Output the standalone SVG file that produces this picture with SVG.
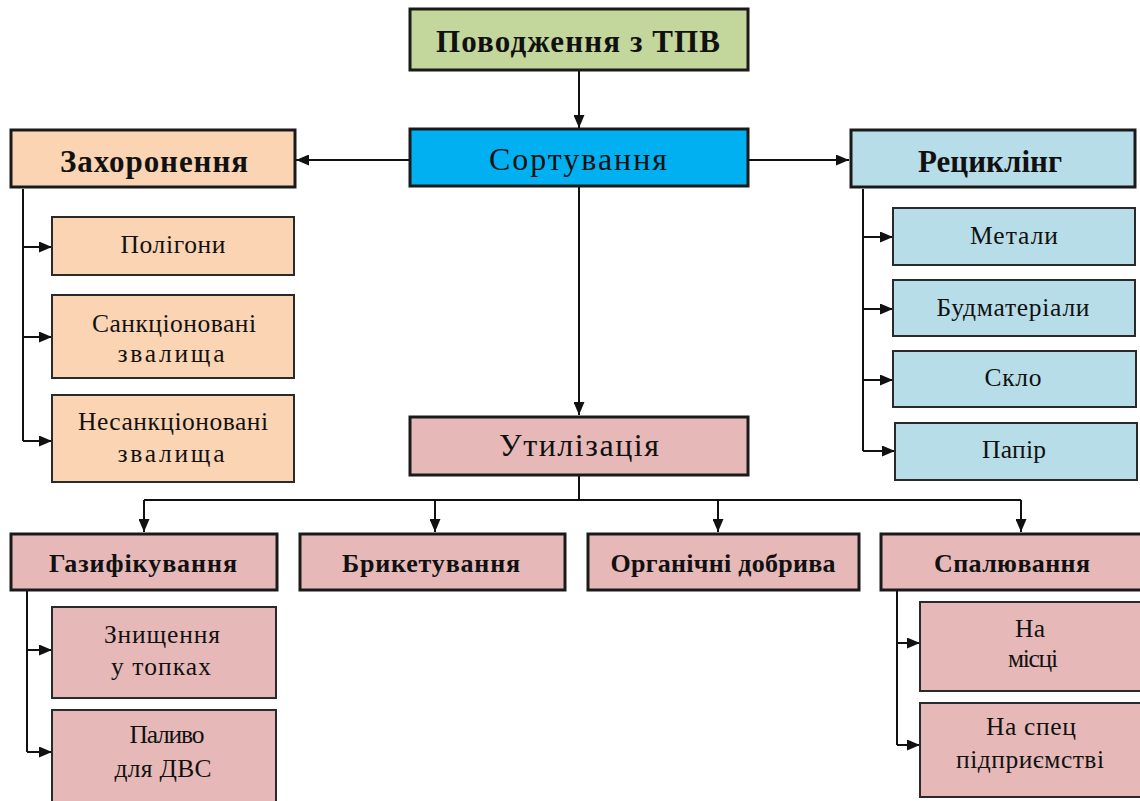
<svg xmlns="http://www.w3.org/2000/svg" width="1140" height="801" viewBox="0 0 1140 801">
  <defs>
    <marker id="arrow" viewBox="0 0 13 11" refX="13" refY="5.5" markerWidth="13" markerHeight="11" markerUnits="userSpaceOnUse" orient="auto">
      <path d="M0,0 L13,5.5 L0,11 Z" fill="#111"/>
    </marker>
    <style>
      .main { stroke: #1a1a1a; stroke-width: 3; }
      .sub { stroke: #2a2a2a; stroke-width: 2; }
      .green { fill: #C3D69B; }
      .cyan { fill: #00B0F0; }
      .peach { fill: #FBD4B4; }
      .blue { fill: #B7DDE8; }
      .pink { fill: #E6B9B8; }
      text { font-family: "Liberation Serif", "Times New Roman", serif; fill: #111; text-anchor: middle; }
      .t1 { font-size: 31px; font-weight: bold; }
      .t2 { font-size: 32px; }
      .t3 { font-size: 26px; font-weight: bold; }
      .t4 { font-size: 25.5px; }
      .link { fill: none; stroke: #111; stroke-width: 2; }
      .arr { marker-end: url(#arrow); }
    </style>
  </defs>

  <rect width="1140" height="801" fill="#fff"/>

  <!-- connectors -->
  <g id="connectors">
    <path class="link arr" d="M579,71 V128"/>
    <path class="link arr" d="M410,160 H296"/>
    <path class="link arr" d="M748,160 H849"/>
    <path class="link arr" d="M579,187 V415"/>
    <!-- burial branch -->
    <path class="link" d="M23,189 V441"/>
    <path class="link arr" d="M23,247 H52"/>
    <path class="link arr" d="M23,337 H52"/>
    <path class="link arr" d="M23,441 H52"/>
    <!-- recycling branch -->
    <path class="link" d="M863,189 V451"/>
    <path class="link arr" d="M863,237 H893"/>
    <path class="link arr" d="M863,309 H893"/>
    <path class="link arr" d="M863,380 H893"/>
    <path class="link arr" d="M863,451 H895"/>
    <!-- utilisation bus -->
    <path class="link" d="M579,476 V500"/>
    <path class="link" d="M144,500 H1021"/>
    <path class="link arr" d="M144,500 V532"/>
    <path class="link arr" d="M435,500 V532"/>
    <path class="link arr" d="M718,500 V532"/>
    <path class="link arr" d="M1021,500 V532"/>
    <!-- gasification branch -->
    <path class="link" d="M27,591 V752"/>
    <path class="link arr" d="M27,650 H52"/>
    <path class="link arr" d="M27,752 H52"/>
    <!-- incineration branch -->
    <path class="link" d="M897,591 V745"/>
    <path class="link arr" d="M897,643 H920"/>
    <path class="link arr" d="M897,745 H920"/>
  </g>

  <g id="n-root">
    <rect class="main green" x="410" y="9" width="338" height="61"/>
    <text class="t1" x="578" y="52" textLength="284">Поводження з ТПВ</text>
  </g>
  <g id="n-sort">
    <rect class="main cyan" x="410" y="129" width="338" height="57"/>
    <text class="t2" x="578" y="170" textLength="178">Сортування</text>
  </g>
  <g id="n-burial">
    <rect class="main peach" x="11" y="130" width="284" height="57"/>
    <text class="t1" x="154" y="172" textLength="188">Захоронення</text>
  </g>
  <g id="n-recycle">
    <rect class="main blue" x="851" y="130" width="284" height="57"/>
    <text class="t1" x="990" y="172" textLength="144">Рециклінг</text>
  </g>

  <g id="n-polygons">
    <rect class="sub peach" x="52" y="217" width="242" height="58"/>
    <text class="t4" x="173" y="253" textLength="105">Полігони</text>
  </g>
  <g id="n-sanctioned">
    <rect class="sub peach" x="52" y="295" width="242" height="83"/>
    <text class="t4" x="174" y="332" textLength="164">Санкціоновані</text>
    <text class="t4" x="171" y="362" textLength="107">звалища</text>
  </g>
  <g id="n-unsanctioned">
    <rect class="sub peach" x="52" y="395" width="242" height="87"/>
    <text class="t4" x="173" y="430" textLength="190">Несанкціоновані</text>
    <text class="t4" x="171" y="462" textLength="107">звалища</text>
  </g>

  <g id="n-metals">
    <rect class="sub blue" x="893" y="208" width="242" height="57"/>
    <text class="t4" x="1014" y="244" textLength="88">Метали</text>
  </g>
  <g id="n-building">
    <rect class="sub blue" x="893" y="280" width="242" height="56"/>
    <text class="t4" x="1013" y="316" textLength="153">Будматеріали</text>
  </g>
  <g id="n-glass">
    <rect class="sub blue" x="893" y="351" width="243" height="56"/>
    <text class="t4" x="1013" y="386" textLength="57">Скло</text>
  </g>
  <g id="n-paper">
    <rect class="sub blue" x="895" y="423" width="242" height="57"/>
    <text class="t4" x="1014" y="458" textLength="64">Папір</text>
  </g>

  <g id="n-util">
    <rect class="main pink" x="410" y="417" width="338" height="58"/>
    <text class="t2" x="579" y="456" textLength="160">Утилізація</text>
  </g>

  <g id="n-gasif">
    <rect class="main pink" x="11" y="534" width="266" height="56"/>
    <text class="t3" x="143" y="572" textLength="188">Газифікування</text>
  </g>
  <g id="n-briquet">
    <rect class="main pink" x="300" y="534" width="265" height="56"/>
    <text class="t3" x="431" y="572" textLength="178">Брикетування</text>
  </g>
  <g id="n-organic">
    <rect class="main pink" x="588" y="534" width="271" height="56"/>
    <text class="t3" x="723" y="572" textLength="225">Органічні добрива</text>
  </g>
  <g id="n-incin">
    <rect class="main pink" x="881" y="534" width="262" height="56"/>
    <text class="t3" x="1012" y="572" textLength="156">Спалювання</text>
  </g>

  <g id="n-furnace">
    <rect class="sub pink" x="52" y="607" width="224" height="91"/>
    <text class="t4" x="162" y="643" textLength="116">Знищення</text>
    <text class="t4" x="161" y="675" textLength="100">у топках</text>
  </g>
  <g id="n-fuel">
    <rect class="sub pink" x="52" y="710" width="224" height="95"/>
    <text class="t4" x="167" y="743" textLength="75">Паливо</text>
    <text class="t4" x="163" y="777" textLength="97">для ДВС</text>
  </g>
  <g id="n-onsite">
    <rect class="sub pink" x="920" y="602" width="225" height="89"/>
    <text class="t4" x="1030" y="637" textLength="30">На</text>
    <text class="t4" x="1033" y="667" textLength="50">місці</text>
  </g>
  <g id="n-special">
    <rect class="sub pink" x="920" y="703" width="225" height="94"/>
    <text class="t4" x="1031" y="735" textLength="90">На спец</text>
    <text class="t4" x="1030" y="768" textLength="148">підприємстві</text>
  </g>
</svg>
